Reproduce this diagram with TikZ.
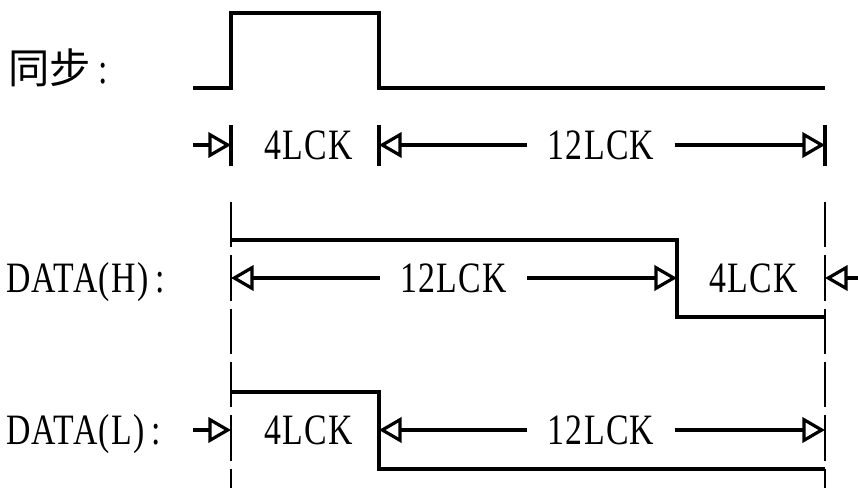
\documentclass[tikz,border=0pt]{standalone}
\usepackage{fontspec}
\newfontfamily\cjkfont{Noto Sans CJK SC}
\newfontfamily\latfont[FakeStretch=0.78, LetterSpace=3]{Liberation Serif}
\usetikzlibrary{arrows.meta}

\begin{document}
\begin{tikzpicture}[x=0.75pt, y=-0.75pt,
    wave/.style={line width=2.6pt, line join=miter},
    dimline/.style={line width=2.4pt, -{Triangle[open, length=17pt, width=19pt]}},
    tickmark/.style={line width=2.4pt},
    guide/.style={line width=0.9pt, dash pattern=on 34pt off 6pt},
    lbl/.style={font=\latfont\fontsize{32.5}{32.5}\selectfont, inner sep=0pt, text height=21.4pt, text depth=0pt},
    span/.style={lbl, minimum width=110pt}]
    \useasboundingbox (0,0) rectangle (858,488);

    % Time marks for each arrow row
    \foreach \n/\x in {a/193, t0/231, t1/379, t2/677, t3/825, e/858} {
        \foreach \r/\y in {1/145, 2/278, 3/430} {
            \coordinate (\n-\r) at (\x,\y);
        }
    }

    % Signal names
    \node[anchor=base west, inner sep=0pt] (sync) at (8,84)
        {\cjkfont\fontsize{31}{31}\selectfont 同步\latfont\fontsize{32.5}{32.5}\selectfont\,:};
    \node[lbl, anchor=west] (dh) at (6,278) {DATA(H)\,:};
    \node[lbl, anchor=west] (dl) at (6,430) {DATA(L)\,:};

    % Draw waveforms
    \draw[wave] (193,88) -- (231,88) -- (231,13) -- (379,13) -- (379,88) -- (825,88);
    \draw[wave] (231,240) -- (677,240) -- (677,317) -- (825,317);
    \draw[wave] (231,392) -- (379,392) -- (379,469) -- (825,469);

    % Dashed guide lines
    \foreach \x in {231, 825} {
        \draw[guide] (\x,202) -- (\x,488);
    }

    % Row 1: sync timing
    \node[lbl] (s4) at (309,145) {4LCK};
    \node[span] (s12) at (601,145) {12LCK};
    \foreach \n in {t0, t1, t3} {
        \draw[tickmark] (\n-1) ++(0,-20) -- ++(0,41);
    }
    \draw[dimline] (a-1) -- (t0-1);
    \draw[dimline] (s12.west) -- (t1-1);
    \draw[dimline] (s12.east) -- (t3-1);

    % Row 2: DATA(H) timing
    \node[span] (h12) at (453.5,278) {12LCK};
    \node[lbl] (h4) at (754,278) {4LCK};
    \draw[dimline] (h12.west) -- (t0-2);
    \draw[dimline] (h12.east) -- (t2-2);
    \draw[dimline] (e-2) -- (t3-2);

    % Row 3: DATA(L) timing
    \node[lbl] (l4) at (309,430) {4LCK};
    \node[span] (l12) at (601,430) {12LCK};
    \draw[dimline] (a-3) -- (t0-3);
    \draw[dimline] (l12.west) -- (t1-3);
    \draw[dimline] (l12.east) -- (t3-3);
\end{tikzpicture}
\end{document}
